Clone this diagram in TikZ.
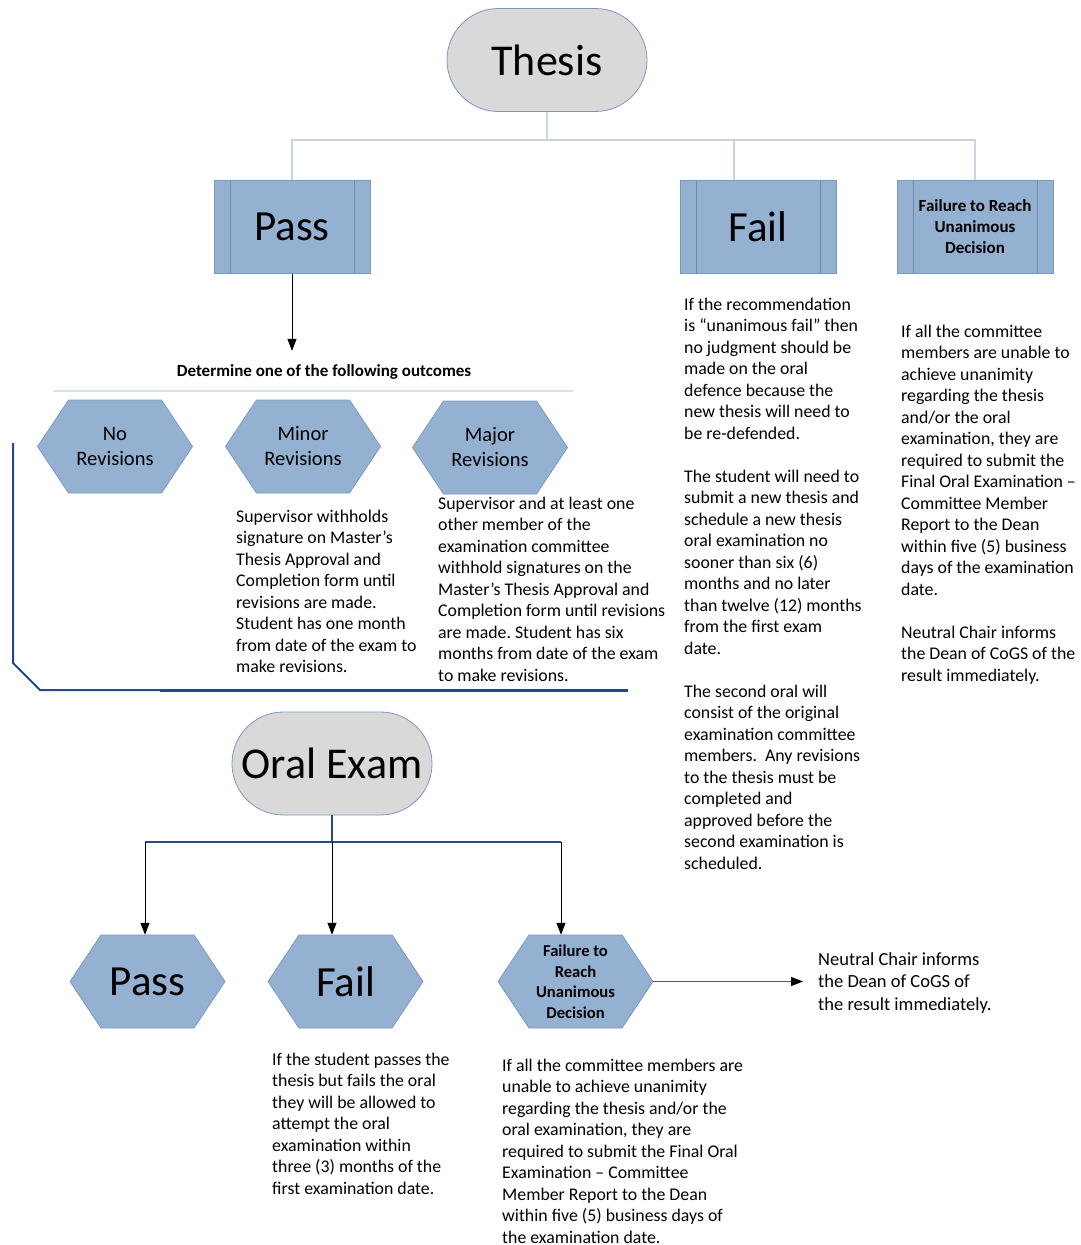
\documentclass[tikz,border=0pt]{standalone}
\usepackage{fontspec}
\setmainfont{Carlito}
\frenchspacing
\usetikzlibrary{shapes.misc,arrows.meta,calc}
\definecolor{boxblue}{RGB}{149,177,210}
\definecolor{boxedge}{RGB}{124,152,194}
\definecolor{startgray}{RGB}{217,217,217}
\definecolor{paleline}{RGB}{201,211,227}
\definecolor{navyline}{RGB}{38,72,135}
\tikzset{startbox/.style={rounded rectangle, draw=boxedge, fill=startgray, line width=0.8pt,
           minimum width=200pt, minimum height=103pt, inner sep=0pt,
           font=\fontsize{44}{50}\selectfont},
         procbox/.style={rectangle, draw=boxedge, fill=boxblue, line width=0.8pt,
           minimum width=156pt, minimum height=93pt, inner sep=0pt, align=center,
           path picture={\draw[boxedge!90!black, line width=1pt]
             ([xshift=16pt]path picture bounding box.north west) -- ([xshift=16pt]path picture bounding box.south west)
             ([xshift=-16pt]path picture bounding box.north east) -- ([xshift=-16pt]path picture bounding box.south east);}},
         hexlabel/.style={minimum width=155pt, minimum height=93pt, inner sep=0pt, align=center,
           font=\fontsize{20.5}{25}\selectfont},
         bigword/.style={font=\fontsize{43}{50}\selectfont},
         boldsmall/.style={font=\bfseries\fontsize{17}{21}\selectfont},
         note/.style={anchor=base west, inner sep=0pt, font=\fontsize{17.8}{21.5}\selectfont},
         paleconn/.style={draw=paleline, line width=1.6pt},
         navyconn/.style={draw=navyline, line width=2pt},
         blkarrow/.style={-{Triangle[length=12pt,width=9pt,color=black]}, line width=1pt, black}}
% hexagon: [label style] name, centre, text
\newcommand{\drawhex}[4][]{%
  \filldraw[fill=boxblue, draw=boxedge, line width=0.8pt] (#3) ++(-77.5,0) -- ++(31,-46.5) -- ++(93,0)
    -- ++(31,46.5) -- ++(-31,46.5) -- ++(-93,0) -- cycle;
  \node[hexlabel,#1] (#2) at (#3) {#4};}
% lines of a note, baseline on the first line
\newcommand{\notelines}[1]{\begin{tabular}[t]{@{}l@{}}#1\end{tabular}}

\begin{document}
\begin{tikzpicture}[x=1pt,y=-1pt]
  \useasboundingbox (0,0) rectangle (1081,1245);

  % thesis part
  \node[startbox] (thesis) at (547,60) {Thesis};
  \node[procbox,bigword] (tpass) at (292,227) {Pass};
  \node[procbox,bigword] (tfail) at (758,227) {Fail};
  \node[procbox,boldsmall] (tfrud) at (975,227) {Failure to Reach\\Unanimous\\Decision};

  \draw[paleconn] (thesis.south) -- ++(0,28) coordinate (tbus);
  \draw[paleconn] (tpass.north) -- (tpass.north |- tbus) -- (tfrud.north |- tbus) -- (tfrud.north);
  \draw[paleconn] ($(tfail.north)+(-24,0)$) -- ($(tfail.north |- tbus)+(-24,0)$);

  \node[font=\bfseries\fontsize{17}{20}\selectfont, anchor=base, inner sep=0pt] (outc) at (324,376)
    {Determine one of the following outcomes};
  \draw[blkarrow, shorten >=13pt] (tpass.south) -- (tpass.south |- outc.north);
  \draw[draw=paleline!70, line width=1.6pt] (53,391) -- (573,391);

  \drawhex{norev}{115,446.5}{No\\Revisions}
  \drawhex{minrev}{303,446.5}{Minor\\Revisions}
  \drawhex{majrev}{490,447.5}{Major\\Revisions}

  \node[note] (minnote) at (236,522) {\notelines{Supervisor withholds\\signature on Master’s\\Thesis Approval and\\
    Completion form until\\revisions are made.\\Student has one month\\from date of the exam to\\make revisions.}};
  \node[note] (majnote) at (438,509) {\notelines{Supervisor and at least one\\other member of the\\examination committee\\
    withhold signatures on the\\Master’s Thesis Approval and\\Completion form until revisions\\
    are made. Student has six\\months from date of the exam\\to make revisions.}};

  \node[note] (failnote) at (684,310) {\notelines{If the recommendation\\is “unanimous fail” then\\no judgment should be\\
    made on the oral\\defence because the\\new thesis will need to\\be re-defended.\\[21.5pt]
    The student will need to\\submit a new thesis and\\schedule a new thesis\\oral examination no\\
    sooner than six (6)\\months and no later\\than twelve (12) months\\from the first exam\\date.\\[21.5pt]
    The second oral will\\consist of the original\\examination committee\\members.\ \ Any revisions\\
    to the thesis must be\\completed and\\approved before the\\second examination is\\scheduled.}};
  \node[note] (frudnote) at (901,337) {\notelines{If all the committee\\members are unable to\\achieve unanimity\\
    regarding the thesis\\and/or the oral\\examination, they are\\required to submit the\\
    Final Oral Examination –\\Committee Member\\Report to the Dean\\within five (5) business\\
    days of the examination\\date.\\[21.5pt]
    Neutral Chair informs\\the Dean of CoGS of the\\result immediately.}};

  \draw[navyconn] (13,443) -- (13,663) -- (40,690) -- (628,690);
  \draw[navyconn, line width=3pt] (160,690) -- (628,690);

  % oral exam part
  \node[startbox] (oral) at (332,763.5) {Oral Exam};
  \drawhex[bigword]{opass}{147.5,981.5}{Pass}
  \drawhex[bigword]{ofail}{345.5,981.5}{Fail}
  \drawhex[font=\bfseries\fontsize{16.6}{20.5}\selectfont]{ofrud}{575.5,981.5}{Failure to\\Reach\\Unanimous\\Decision}

  \draw[navyconn] (oral.south) -- ++(0,27) coordinate (obus);
  \coordinate (obusl) at (145,842);
  \coordinate (obusr) at (561,842);
  \draw[navyconn] (obusl) -- (obusr);
  \draw[blkarrow] (obusl) -- (obusl |- opass.north);
  \draw[blkarrow] (obus) -- (obus |- ofail.north);
  \draw[blkarrow] (obusr) -- (obusr |- ofrud.north);

  \node[note, font=\fontsize{18.5}{22.5}\selectfont] (neutral) at (818,965)
    {\notelines{Neutral Chair informs\\the Dean of CoGS of\\the result immediately.}};
  \draw[blkarrow, draw=black!65, line width=1.4pt, shorten >=15pt] (ofrud.east) -- (ofrud.east -| neutral.west);

  \node[note] (ofailnote) at (272,1065) {\notelines{If the student passes the\\thesis but fails the oral\\
    they will be allowed to\\attempt the oral\\examination within\\three (3) months of the\\first examination date.}};
  \node[note] (ofrudnote) at (502,1071) {\notelines{If all the committee members are\\unable to achieve unanimity\\
    regarding the thesis and/or the\\oral examination, they are\\required to submit the Final Oral\\
    Examination – Committee\\Member Report to the Dean\\within five (5) business days of\\the examination date.}};
\end{tikzpicture}
\end{document}
